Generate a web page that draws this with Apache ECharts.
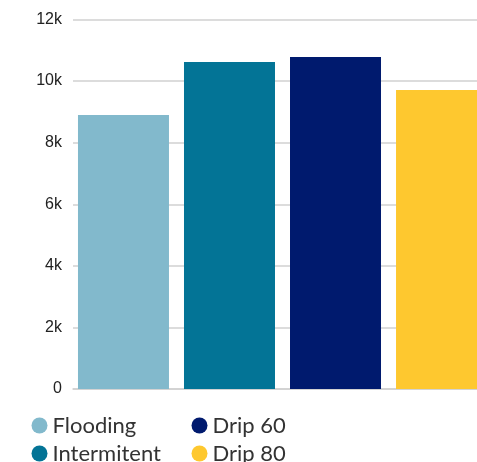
<!DOCTYPE html>
<html>
<head>
<meta charset="utf-8">
<script src="https://cdn.jsdelivr.net/npm/echarts@6/dist/echarts.min.js"></script>
<style>
  html, body { margin: 0; padding: 0; background: #fff; }
  #chart { width: 477px; height: 462px; }
</style>
</head>
<body>
<div id="chart"></div>
<script>
const categories = ["Yield"];
const seriesNames = ["Flooding", "Intermitent", "Drip 60", "Drip 80"];
const seriesValues = [8900, 10620, 10780, 9710];
const seriesColors = ["#82b9cc", "#037496", "#001a6e", "#fec82f"];
const yTicks = [0, 2000, 4000, 6000, 8000, 10000, 12000];

const chart = echarts.init(document.getElementById("chart"));

const legendText = { fontSize: 22, color: "#333", fontFamily: "Lato", lineHeight: 22 };

const legendBase = {
  orient: "vertical",
  top: 414.5,
  height: 80,
  padding: 0,
  icon: "circle",
  itemWidth: 16,
  itemHeight: 16,
  itemGap: 6,
  textStyle: legendText,
};

const option = {
  animation: false,
  grid: {
    left: 73,
    right: -15,
    top: 19.5,
    bottom: 73,
    outerBoundsMode: "none",
  },
  legend: [
    Object.assign({}, legendBase, { data: seriesNames.slice(0, 2), left: 31.5 }),
    Object.assign({}, legendBase, { data: seriesNames.slice(2, 4), left: 191.5 }),
  ],
  xAxis: {
    type: "category",
    data: categories,
    axisTick: { show: false },
    axisLabel: { show: false },
    axisLine: { lineStyle: { color: "#d0d0d0", width: 1.5 } },
  },
  yAxis: {
    type: "value",
    min: yTicks[0],
    max: yTicks[yTicks.length - 1],
    interval: 2000,
    axisLabel: {
      margin: 11,
      fontSize: 16,
      color: "#222",
      fontFamily: "Liberation Sans",
      formatter: (v) => (v === 0 ? "0" : v / 1000 + "k"),
    },
    splitLine: { lineStyle: { color: "#d0d0d0", width: 1.5 } },
  },
  series: seriesNames.map((name, i) => ({
    name,
    type: "bar",
    barWidth: 91,
    barGap: "16.5%",
    itemStyle: { color: seriesColors[i] },
    data: [seriesValues[i]],
  })),
};

chart.setOption(option);
</script>
</body>
</html>
